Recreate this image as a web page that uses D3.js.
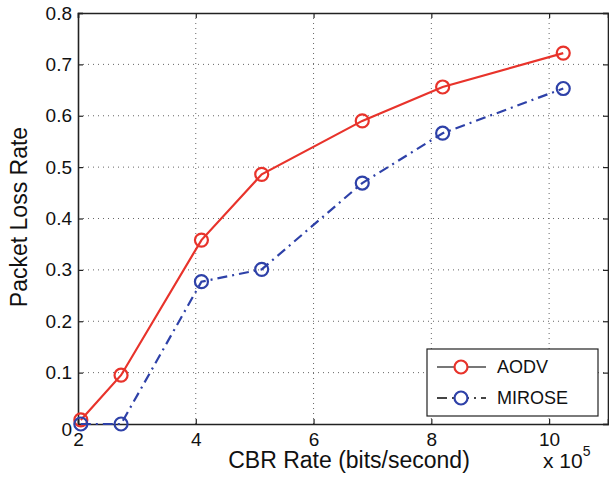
<!DOCTYPE html>
<html>
<head>
<meta charset="utf-8">
<script src="https://cdn.jsdelivr.net/npm/d3@7"></script>
<style>
  body { margin: 0; background: #fff; }
  svg { display: block; }
  text { font-family: "Liberation Sans", Arial, sans-serif; fill: #111; }
</style>
</head>
<body>
<svg id="chart" width="609" height="482"></svg>
<script>
// CBR rate in units of 1e5 bits/second
const cbrRates = [2.048, 2.731, 4.096, 5.12, 6.827, 8.192, 10.24];
const aodvLoss = [0.008, 0.095, 0.358, 0.486, 0.59, 0.656, 0.722];
const miroseLoss = [0.0, 0.0, 0.277, 0.301, 0.469, 0.566, 0.653];
const xTicks = [2, 4, 6, 8, 10];
const yTicks = [0, 0.1, 0.2, 0.3, 0.4, 0.5, 0.6, 0.7, 0.8];
const seriesNames = ['AODV', 'MIROSE'];

const margin = { top: 13, right: 1, bottom: 58, left: 78 };
const width = 609, height = 482;
const innerWidth = width - margin.left - margin.right;
const innerHeight = height - margin.top - margin.bottom;

const svg = d3.select('#chart');
const g = svg.append('g').attr('transform', `translate(${margin.left},${margin.top})`);

const x = d3.scaleLinear().domain([2, 11]).range([0, innerWidth]);
const y = d3.scaleLinear().domain([0, 0.8]).range([innerHeight, 0]);

// dotted grid
g.append('g').selectAll('line').data(xTicks.slice(1)).join('line')
  .attr('x1', d => x(d)).attr('x2', d => x(d))
  .attr('y1', 0).attr('y2', innerHeight)
  .attr('stroke', '#666').attr('stroke-width', 1).attr('stroke-dasharray', '1,4');
g.append('g').selectAll('line').data(yTicks.slice(1, -1)).join('line')
  .attr('y1', d => y(d)).attr('y2', d => y(d))
  .attr('x1', 0).attr('x2', innerWidth)
  .attr('stroke', '#666').attr('stroke-width', 1).attr('stroke-dasharray', '1,4');

// axes (inward ticks, matlab style)
const xAxis = d3.axisBottom(x).tickValues(xTicks).tickSize(-5).tickPadding(9).tickFormat(d3.format('d'));
const yAxis = d3.axisLeft(y).tickValues(yTicks).tickSize(-5).tickPadding(6).tickFormat(d => d === 0 ? '0' : d3.format('.1f')(d));

const xg = g.append('g').attr('class', 'x axis').attr('transform', `translate(0,${innerHeight})`).call(xAxis);
const yg = g.append('g').attr('class', 'y axis').call(yAxis);
g.append('g').attr('transform', 'translate(0,0)')
  .call(d3.axisTop(x).tickValues(xTicks).tickSize(-5).tickFormat(''));
g.append('g').attr('transform', `translate(${innerWidth},0)`)
  .call(d3.axisRight(y).tickValues(yTicks).tickSize(-5).tickFormat(''));

svg.selectAll('.domain').attr('stroke', '#222').attr('stroke-width', 1.6);
svg.selectAll('.tick line').attr('stroke', '#222').attr('stroke-width', 1.2);
svg.selectAll('.tick text').style('font-size', '19px').attr('fill', '#111');
xg.selectAll('.tick text').attr('dy', '0.71em');
// matlab drops the zero label a little below the axis
yg.selectAll('.tick text').filter(d => d === 0).attr('dy', '0.6em');

// lines
const line = d3.line().x((d, i) => x(cbrRates[i])).y(d => y(d));

const series = [
  { name: seriesNames[0], values: aodvLoss, color: '#e8332b', dash: null },
  { name: seriesNames[1], values: miroseLoss, color: '#2e41a8', dash: '10,5,2,5' }
];

series.forEach(s => {
  g.append('path').datum(s.values)
    .attr('d', line)
    .attr('fill', 'none')
    .attr('stroke', s.color)
    .attr('stroke-width', 2.2)
    .attr('stroke-dasharray', s.dash);
  g.append('g').selectAll('circle').data(s.values).join('circle')
    .attr('cx', (d, i) => x(cbrRates[i]))
    .attr('cy', d => y(d))
    .attr('r', 6.5)
    .attr('fill', 'none')
    .attr('stroke', s.color)
    .attr('stroke-width', 2.2);
});

// axis labels
svg.append('text')
  .attr('x', 349).attr('y', 468)
  .attr('text-anchor', 'middle')
  .style('font-size', '23px')
  .text('CBR Rate (bits/second)');

const expo = svg.append('text').attr('x', 543).attr('y', 468).style('font-size', '21px');
expo.append('tspan').text('x 10');
expo.append('tspan').attr('dy', -12).style('font-size', '14px').text('5');

svg.append('text')
  .attr('transform', `translate(27,217) rotate(-90)`)
  .attr('text-anchor', 'middle')
  .style('font-size', '23px')
  .text('Packet Loss Rate');

// legend
const legend = svg.append('g').attr('transform', 'translate(427,349)');
legend.append('rect')
  .attr('width', 171).attr('height', 67)
  .attr('fill', '#fff').attr('stroke', '#222').attr('stroke-width', 1.2);

series.forEach((s, i) => {
  const ly = 18 + i * 31;
  legend.append('line')
    .attr('x1', 10).attr('x2', 59).attr('y1', ly).attr('y2', ly)
    .attr('stroke', i === 0 ? '#777' : '#444').attr('stroke-width', 2.2)
    .attr('stroke-dasharray', i === 0 ? null : '10,5,2,5');
  legend.append('circle')
    .attr('cx', 34).attr('cy', ly).attr('r', 6.5)
    .attr('fill', '#fff').attr('stroke', s.color).attr('stroke-width', 2.2);
  legend.append('text')
    .attr('x', 70).attr('y', ly + 6)
    .style('font-size', '18px')
    .text(s.name);
});
</script>
</body>
</html>
